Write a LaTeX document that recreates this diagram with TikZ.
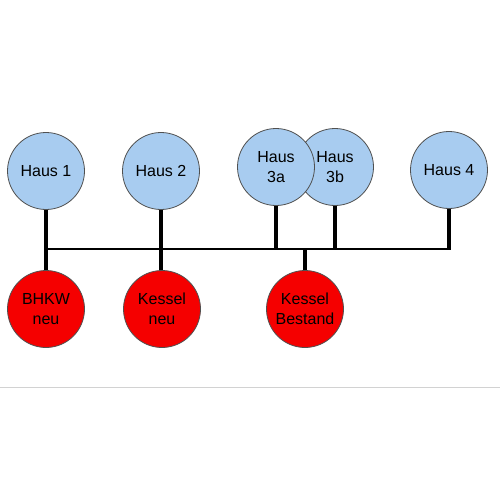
\documentclass[tikz,border=0pt]{standalone}
\usepackage{fontspec}
\setmainfont{Liberation Sans}
\definecolor{hausblue}{RGB}{168,204,240}
\definecolor{heatred}{RGB}{245,0,0}
\definecolor{rim}{RGB}{80,80,80}
\definecolor{sepgray}{RGB}{210,210,210}
\begin{document}
\begin{tikzpicture}[x=1pt,y=-1pt,
  haus/.style={circle,draw=rim,line width=0.8pt,fill=hausblue,minimum size=77pt,inner sep=0pt,align=center,font=\fontsize{16}{19.5}\selectfont},
  erz/.style={haus,fill=heatred},
  pipe/.style={line width=3.2pt,draw=black},
  bus/.style={line width=2.5pt,draw=black}]
\useasboundingbox (0,0) rectangle (500,500);
\fill[white] (0,0) rectangle (500,500);
% separator
\coordinate (sepL) at (0,387);
\coordinate (sepR) at (500,387);
\draw[sepgray,line width=1pt] (sepL) -- (sepR);
% bus
\coordinate (busL) at (46,249);
\coordinate (busR) at (451,249);
% nodes
\node[haus] (h1) at (46,171) {Haus 1};
\node[haus] (h2) at (161,171) {Haus 2};
\node[haus] (h3b) at (335,167) {Haus\\3b};
\node[haus] (h3a) at (276,167) {Haus\\3a};
\node[haus] (h4) at (449,170) {Haus 4};
\node[erz] (bhkw) at (46,309) {BHKW\\neu};
\node[erz] (kn) at (162,309) {Kessel\\neu};
\node[erz] (kb) at (305,309) {Kessel\\Bestand};
% connectors
\draw[bus] (busL) -- (busR);
\draw[pipe] (h1.south) -- (bhkw.north);
\draw[pipe] (h2.south) -- (h2.south |- kn.north);
\draw[pipe] (h3a.south) -- (h3a.south |- busL);
\draw[pipe] (h3b.south) -- (h3b.south |- busL);
\draw[pipe] (h4.south) -- (h4.south |- busR);
\draw[pipe] (kb.north) -- (kb.north |- busL);
\end{tikzpicture}
\end{document}
